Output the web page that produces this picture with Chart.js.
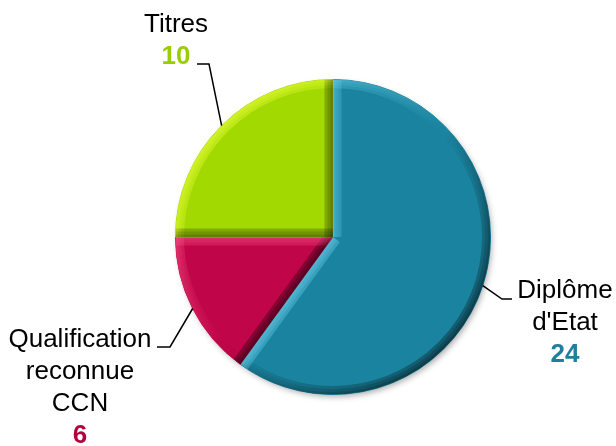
<!DOCTYPE html>
<html>
<head>
<meta charset="utf-8">
<script src="https://cdn.jsdelivr.net/npm/chart.js@4.4.1/dist/chart.umd.min.js"></script>
<style>
  html, body { margin: 0; background: #fff; }
  #wrap { width: 616px; height: 446px; }
</style>
</head>
<body>
<div id="wrap"><canvas id="pie"></canvas></div>
<script>
// Répartition des certifications
const categories = [['Diplôme', "d'Etat"], ['Qualification', 'reconnue', 'CCN'], ['Titres']];
const values = [24, 6, 10];
const sliceColors = ['#1a84a0', '#c00548', '#a2d900'];
const highlightRgb = ['110,210,235', '255,90,140', '235,255,60'];
const valueColors = ['#1f7f9c', '#b5003f', '#9acd00'];

// leader line elbows / label placement (pixels)
const labelLayout = [
    { elbow: [502, 299], end: [512, 299], textX: 565, baseline: 298 },
    { elbow: [170, 347], end: [157, 347], textX: 80, baseline: 347 },
    { elbow: [209, 64], end: [197, 64], textX: 176, baseline: 32 }
];
const LINE_H = 32;
const FONT = '"Liberation Sans", Arial, sans-serif';

// light comes from the top-left
function tone(nx, ny, scale, rgb) {
    const k = -(nx + ny) * Math.SQRT1_2;
    return k >= 0
        ? 'rgba(' + rgb + ',' + (0.75 * k * scale).toFixed(3) + ')'
        : 'rgba(0,0,0,' + (-0.6 * k * scale).toFixed(3) + ')';
}

const shadowPlugin = {
    id: 'pieShadow',
    beforeDatasetsDraw(chart) {
        const el = chart.getDatasetMeta(0).data[0];
        if (!el) return;
        const ctx = chart.ctx;
        ctx.save();
        ctx.shadowColor = 'rgba(0,0,0,0.35)';
        ctx.shadowBlur = 6;
        ctx.shadowOffsetX = 2;
        ctx.shadowOffsetY = 3;
        ctx.fillStyle = '#777';
        ctx.beginPath();
        ctx.arc(el.x, el.y, el.outerRadius - 1, 0, Math.PI * 2);
        ctx.fill();
        ctx.restore();
    }
};

const bevelPlugin = {
    id: 'bevel',
    afterDatasetsDraw(chart) {
        const ctx = chart.ctx;
        const passes = [{ w: 17, a: 0.5 }, { w: 11, a: 0.3 }, { w: 5, a: 0.3 }];
        chart.getDatasetMeta(0).data.forEach(function (el, idx) {
            const p = el.getProps(['x', 'y', 'startAngle', 'endAngle', 'outerRadius'], true);
            const x = p.x, y = p.y, s = p.startAngle, e = p.endAngle, r = p.outerRadius;
            const rgb = highlightRgb[idx];
            ctx.save();
            ctx.beginPath();
            ctx.moveTo(x, y);
            ctx.arc(x, y, r, s, e);
            ctx.closePath();
            ctx.clip();
            passes.forEach(function (ps) {
                ctx.lineWidth = ps.w;
                // outer rim
                const g = ctx.createConicGradient(0, x, y);
                for (let i = 0; i <= 72; i++) {
                    const a = i / 72 * Math.PI * 2;
                    g.addColorStop(i / 72, tone(Math.cos(a), Math.sin(a), ps.a, rgb));
                }
                ctx.strokeStyle = g;
                ctx.beginPath();
                ctx.arc(x, y, r, s, e);
                ctx.stroke();
                // radial edges
                ctx.strokeStyle = tone(Math.sin(s), -Math.cos(s), ps.a, rgb);
                ctx.beginPath();
                ctx.moveTo(x, y);
                ctx.lineTo(x + r * Math.cos(s), y + r * Math.sin(s));
                ctx.stroke();
                ctx.strokeStyle = tone(-Math.sin(e), Math.cos(e), ps.a, rgb);
                ctx.beginPath();
                ctx.moveTo(x, y);
                ctx.lineTo(x + r * Math.cos(e), y + r * Math.sin(e));
                ctx.stroke();
            });
            ctx.restore();
        });
    }
};

const labelPlugin = {
    id: 'leaderLabels',
    afterDraw(chart) {
        const ctx = chart.ctx;
        const ds = chart.data.datasets[0];
        chart.getDatasetMeta(0).data.forEach(function (el, i) {
            const p = el.getProps(['x', 'y', 'startAngle', 'endAngle', 'outerRadius'], true);
            const mid = (p.startAngle + p.endAngle) / 2;
            const lay = labelLayout[i];
            ctx.save();
            ctx.strokeStyle = '#000';
            ctx.lineWidth = 1.5;
            ctx.beginPath();
            ctx.moveTo(p.x + p.outerRadius * Math.cos(mid), p.y + p.outerRadius * Math.sin(mid));
            ctx.lineTo(lay.elbow[0], lay.elbow[1]);
            ctx.lineTo(lay.end[0], lay.end[1]);
            ctx.stroke();

            ctx.textAlign = 'center';
            ctx.textBaseline = 'alphabetic';
            const lines = chart.data.labels[i];
            ctx.font = '26px ' + FONT;
            ctx.fillStyle = '#000';
            lines.forEach(function (t, j) {
                ctx.fillText(t, lay.textX, lay.baseline + j * LINE_H);
            });
            ctx.font = 'bold 26px ' + FONT;
            ctx.fillStyle = valueColors[i];
            ctx.fillText(String(ds.data[i]), lay.textX, lay.baseline + lines.length * LINE_H);
            ctx.restore();
        });
    }
};

new Chart(document.getElementById('pie'), {
    type: 'pie',
    data: {
        labels: categories,
        datasets: [{
            data: values,
            backgroundColor: sliceColors,
            borderColor: sliceColors,
            borderWidth: 1
        }]
    },
    options: {
        responsive: true,
        maintainAspectRatio: false,
        animation: false,
        layout: { padding: { left: 175, right: 125, top: 79, bottom: 51 } },
        plugins: {
            legend: { display: false },
            tooltip: { enabled: false }
        }
    },
    plugins: [shadowPlugin, bevelPlugin, labelPlugin]
});
</script>
</body>
</html>
